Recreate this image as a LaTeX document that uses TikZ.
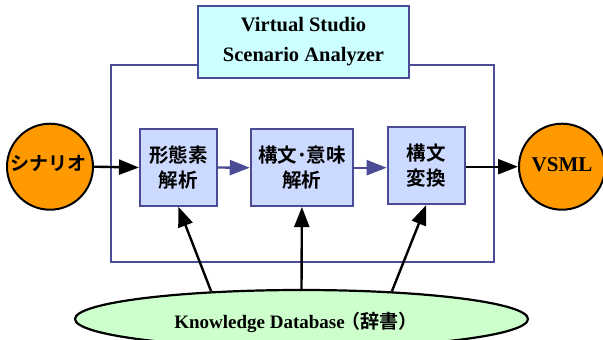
\documentclass[tikz,border=0pt]{standalone}
\usepackage{fontspec}
\setmainfont{Liberation Serif}
\newfontfamily\jp{Noto Sans CJK JP}[BoldFont={* Bold}]
\usetikzlibrary{arrows.meta,shapes.geometric}
\definecolor{frameblue}{RGB}{75,75,150}
\definecolor{boxfill}{RGB}{204,218,255}
\definecolor{titlefill}{RGB}{204,255,255}
\definecolor{orng}{RGB}{255,153,0}
\definecolor{kbfill}{RGB}{204,255,204}
\tikzset{
  stagebox/.style={draw=frameblue, line width=2pt, fill=boxfill, rectangle, inner sep=0pt, align=center,
    font=\jp\bfseries\fontsize{19.5}{25}\selectfont},
  endcircle/.style={draw=black, line width=2pt, fill=orng, circle, minimum size=86pt, inner sep=0pt},
  blackarr/.style={draw=black, line width=2.4pt, -{Triangle[length=20pt,width=15pt]}},
  bluearr/.style={draw=frameblue, line width=2.4pt, -{Triangle[length=20pt,width=15pt]}},
}
\begin{document}
\begin{tikzpicture}[x=1pt,y=-1pt]
\useasboundingbox (0,0) rectangle (603,340);
% outer frame
\draw[frameblue, line width=2pt] (111,64.5) rectangle (494,262.3);
% title
\node[draw=frameblue, line width=2pt, fill=titlefill, minimum width=211pt, minimum height=72pt,
  inner sep=0pt, align=center, font=\bfseries\fontsize{20.5}{30}\selectfont] (title) at (303.5,41.5)
  {Virtual Studio\\Scenario Analyzer};
% stages
\node[stagebox, minimum width=76.7pt, minimum height=76.4pt] (b1) at (178.3,167.5) {形態素\\解析};
\node[stagebox, minimum width=102.3pt, minimum height=76.7pt] (b2) at (301.9,167.7) {構文･意味\\解析};
\node[stagebox, minimum width=77.3pt, minimum height=77.3pt] (b3) at (426.3,165.3) {構文\\変換};
% end circles
\node[endcircle] (sc) at (50,166.7) {};
\node[font=\jp\bfseries\fontsize{19}{19}\selectfont] (sct) at (48.5,163.5) {シナリオ};
\node[endcircle] (vs) at (562,166.7) {};
\node[font=\bfseries\fontsize{21}{21}\selectfont] (vst) at (562,165) {VSML};
% knowledge database
\node[draw=black, line width=2.2pt, fill=kbfill, ellipse, minimum width=453pt, minimum height=58pt,
  inner sep=0pt] (kb) at (301.5,319) {};
\node[font=\bfseries\fontsize{19}{19}\selectfont] (kbt) at (296,322) {Knowledge Database{\jp\bfseries\hspace{-3pt}（辞書）}};
% arrows
\draw[blackarr] (sc.east) -- (b1.west);
\draw[bluearr] (b1.east) -- (b2.west);
\draw[bluearr] (b2.east) -- (b3.west |- b2.east);
\draw[blackarr] (b3.east |- 0,166.7) -- (vs.west);
\draw[blackarr] (kb.163) -- (b1.south);
\draw[blackarr] (kb.north) -- (b2.south);
\draw[blackarr] (kb.17) -- (b3.south);
\end{tikzpicture}
\end{document}
